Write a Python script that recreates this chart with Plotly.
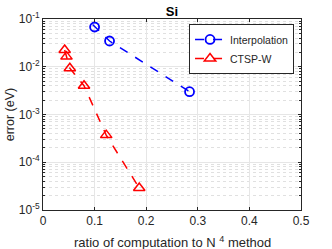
import plotly.graph_objects as go

# Data
interp_x = [0.071, 0.100, 0.129, 0.284]
interp_y = [0.14, 0.068, 0.0346, 0.0030]
ctsp_x = [0.042, 0.0455, 0.052, 0.0795, 0.1225, 0.1865]
ctsp_y = [0.0224, 0.0163, 0.0093, 0.0040, 0.00037, 0.000029]
x_ticks = [0, 0.1, 0.2, 0.3, 0.4, 0.5]
x_tick_labels = ["0", "0.1", "0.2", "0.3", "0.4", "0.5"]
y_ticks = [1e-5, 1e-4, 1e-3, 1e-2, 1e-1]
y_tick_labels = ["10<sup>-5</sup>", "10<sup>-4</sup>", "10<sup>-3</sup>", "10<sup>-2</sup>", "10<sup>-1</sup>"]

font = "Arial"
fig = go.Figure()
fig.add_trace(go.Scatter(
    x=interp_x, y=interp_y, name="Interpolation", mode="lines+markers",
    line=dict(color="#0000ff", width=1.5, dash="dash"),
    marker=dict(symbol="circle-open", size=9, color="#0000ff", line=dict(width=1.8)),
))
fig.add_trace(go.Scatter(
    x=ctsp_x, y=ctsp_y, name="CTSP-W", mode="lines+markers",
    line=dict(color="#ff0000", width=1.5, dash="dash"),
    marker=dict(symbol="triangle-up-open", size=10, color="#ff0000", line=dict(width=1.5)),
))

axis_common = dict(
    showline=True, linecolor="#262626", linewidth=1, mirror="ticks",
    ticks="inside", ticklen=3, tickcolor="#262626", automargin=False,
    gridcolor="#e6e6e6", gridwidth=1, zeroline=False,
    tickfont=dict(size=12, color="#262626", family=font),
)
fig.update_xaxes(
    range=[0, 0.5], tickvals=x_ticks, ticktext=x_tick_labels,
    **axis_common,
)
fig.update_yaxes(
    type="log", range=[-5, -1], tickvals=y_ticks, ticktext=y_tick_labels,
    title=dict(text="error (eV)", font=dict(size=12.5, color="#262626", family=font), standoff=1),
    minor=dict(tickmode="linear", dtick="D1", ticks="inside", ticklen=2, tickcolor="#262626",
               showgrid=True, gridcolor="#e0e0e0", griddash="dot", gridwidth=1),
    **axis_common,
)
fig.add_annotation(
    text="ratio of computation to N <sup>4</sup> method",
    xref="paper", yref="paper", x=0.5, y=-0.165, xanchor="center", yanchor="middle",
    showarrow=False, font=dict(size=13, color="#262626", family=font),
)
fig.update_layout(
    width=332, height=249,
    font=dict(family=font, size=12, color="#262626"),
    margin=dict(l=43, r=31, t=19, b=39, autoexpand=False),
    paper_bgcolor="white", plot_bgcolor="white",
    title=dict(text="<b>Si</b>", x=0.518, xanchor="center", y=0.955, yanchor="middle",
               font=dict(size=13, color="black", family=font)),
    legend=dict(x=0.973, y=0.974, xanchor="right", yanchor="top",
                bgcolor="white", bordercolor="#262626", borderwidth=1,
                font=dict(size=10.5, color="#262626", family=font),
                tracegroupgap=0, itemwidth=30),
    showlegend=True,
)
fig.write_html("out.html", config={"displayModeBar": False},
               post_script="document.body.style.margin='0';document.body.style.overflow='hidden';")
